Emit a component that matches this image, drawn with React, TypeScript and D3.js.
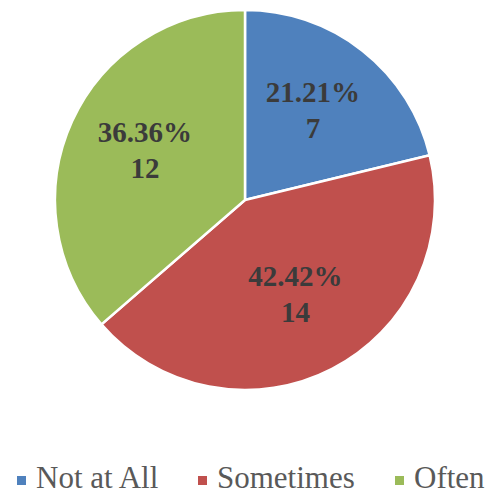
import React from "react";
import * as d3 from "d3";

const categories = ["Not at All", "Sometimes", "Often"];
const counts = [7, 14, 12];
const percentLabels = ["21.21%", "42.42%", "36.36%"];
const colors = ["#4F81BD", "#C0504D", "#9BBB59"];

const SERIF = "Liberation Serif, Tinos, Times New Roman, DejaVu Serif, serif";

export default function App() {
  const W = 490, H = 495;
  const cx = 245, cy = 200, r = 190;
  const pie = d3.pie<number>().sort(null).value((d) => d);
  const arcs = pie(counts);
  const arc = d3.arc<d3.PieArcDatum<number>>().innerRadius(0).outerRadius(r);
  const labelArc = d3.arc<d3.PieArcDatum<number>>().innerRadius(110).outerRadius(110);
  const legendX = [17, 198, 395];
  return (
    <svg width={W} height={H} style={{ position: "absolute", left: 0, top: 0, background: "#fff" }}>
      <g transform={`translate(${cx},${cy})`}>
        {arcs.map((a, i) => (
          <path key={i} d={arc(a) || ""} fill={colors[i]} stroke="#fff" strokeWidth={2.5} />
        ))}
        {arcs.map((a, i) => {
          const [x, y] = labelArc.centroid(a);
          return (
            <text key={"l" + i} textAnchor="middle" fontFamily={SERIF} fontWeight="bold"
              fontSize={29} fill="#3b3b3b">
              <tspan x={x} y={y - 12}>{percentLabels[i]}</tspan>
              <tspan x={x} y={y + 24}>{counts[i]}</tspan>
            </text>
          );
        })}
      </g>
      {categories.map((c, i) => (
        <g key={"g" + i}>
          <rect x={legendX[i]} y={476} width={9} height={9} fill={colors[i]} />
          <text x={legendX[i] + 19} y={488} fontFamily={SERIF} fontSize={31}
            fill="#595959">{c}</text>
        </g>
      ))}
    </svg>
  );
}
